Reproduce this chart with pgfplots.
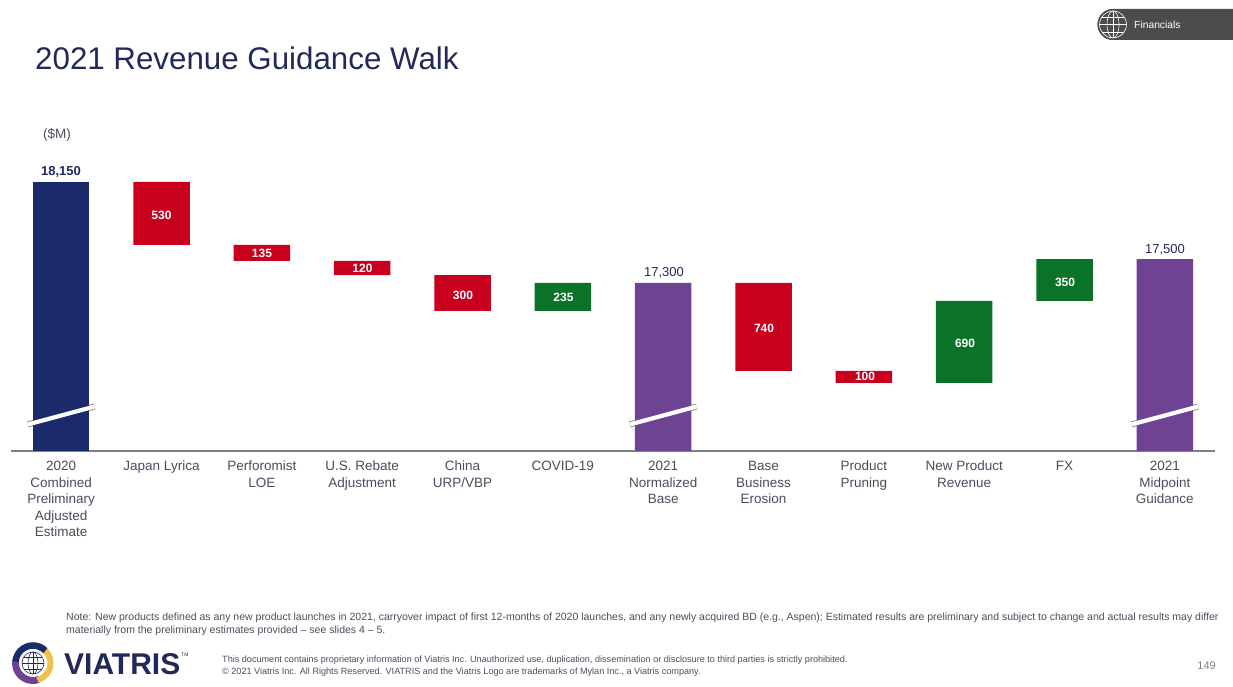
\documentclass[border=0pt]{standalone}
\usepackage{pgfplots}
\pgfplotsset{compat=1.18}
\usepackage{pgfplotstable}
\usepackage{fontspec}
\setmainfont{Liberation Sans}
\definecolor{navy}{HTML}{1B2A6B}
\definecolor{rd}{HTML}{C8001E}
\definecolor{grn}{HTML}{0B7327}
\definecolor{purp}{HTML}{6F4394}
\definecolor{ttl}{HTML}{20295A}
\definecolor{lab}{HTML}{4A4C5C}
\definecolor{yel}{HTML}{EFC24A}
\pgfplotstableread{
x base navy red green purple
0 0     18150 0   0   0
1 17620 0     530 0   0
2 17485 0     135 0   0
3 17365 0     120 0   0
4 17065 0     300 0   0
5 17065 0     0   235 0
6 0     0     0   0   17300
7 16560 0     740 0   0
8 16460 0     100 0   0
9 16460 0     0   690 0
10 17150 0    0   350 0
11 0    0     0   0   17500
}\walk
\newcommand{\fs}[2]{\fontsize{#1}{#2}\selectfont}
\newcommand{\st}{\rule{0pt}{10pt}}
\begin{document}
\begin{tikzpicture}[x=1pt,y=1pt]
\path (0,0) rectangle (1233,687);
% header
\node[anchor=west,inner sep=0,text=ttl] at (35,628.5) {\fs{31.3}{35}2021 Revenue Guidance Walk};
\fill[black!70] (1233,647) -- (1113,647) arc (-90:-270:15.5) -- (1233,678) -- cycle;
\fill[black!70] (1113,662.5) circle (15.5);
\begin{scope}[white,line width=0.6pt]
\draw (1113,662.5) circle (13.5);
\draw (1113,662.5) ellipse (6 and 13.5);
\draw (1099.5,662.5) -- (1126.5,662.5) (1113,649) -- (1113,676);
\draw (1102,670) -- (1124,670) (1102,655) -- (1124,655);
\end{scope}
\node[anchor=west,inner sep=0,text=white] at (1134,662) {\fs{10.3}{12}Financials};
\node[anchor=center,inner sep=0,text=lab] at (57,552.5) {\fs{13.5}{15}(\$M)};
% chart
\begin{axis}[
  at={(11pt,236pt)},anchor=south west,
  scale only axis,width=1204pt,height=269pt,
  xmin=-0.5,xmax=11.5,ymin=15886,ymax=18150,
  clip mode=individual,
  axis x line*=bottom,axis y line=none,
  axis line style={draw=black!50,line width=2.5pt,-},
  ybar stacked,bar width=56.5pt,
  xtick=data,
  xtick style={draw=none},
  xticklabels={{\st 2020\\Combined\\Preliminary\\Adjusted\\Estimate},{\st Japan Lyrica},{\st Perforomist\\LOE},{\st U.S. Rebate\\Adjustment},{\st China\\URP/VBP},{\st COVID-19},{\st 2021\\Normalized\\Base},{\st Base\\Business\\Erosion},{\st Product\\Pruning},{\st New Product\\Revenue},{\st FX},{\st 2021\\Midpoint\\Guidance}},
  xticklabel style={align=center,text=lab,font=\fs{13.5}{16.5},anchor=north,yshift=-6pt},
]
\addplot[draw=none,fill=none] table[x=x,y=base] {\walk};
\addplot[draw=none,fill=navy] table[x=x,y=navy] {\walk};
\addplot[draw=none,fill=rd] table[x=x,y=red] {\walk};
\addplot[draw=none,fill=grn] table[x=x,y=green] {\walk};
\addplot[draw=none,fill=purp] table[x=x,y=purple] {\walk};
\end{axis}
% value labels
\tikzset{inb/.style={text=white,inner sep=0,font=\fs{12}{14}\bfseries},
  top/.style={text=ttl,inner sep=0,font=\fs{13}{15}}}
\node[top,font=\fs{13}{15}\bfseries] at (61,515.5) {18,150};
\node[top] at (664,414.5) {17,300};
\node[top] at (1165,437) {17,500};
\node[inb] at (161.5,472) {530};
\node[inb] at (262,433.5) {135};
\node[inb] at (362.5,419) {120};
\node[inb] at (463,392) {300};
\node[inb] at (563.5,390) {235};
\node[inb] at (764,358.5) {740};
\node[inb] at (865,310.5) {100};
\node[inb] at (965,344) {690};
\node[inb] at (1065,405) {350};
% axis breaks
\foreach \cx/\c in {61.2/navy,663.2/purp,1164.8/purp}{
  \draw[black!45,line width=6pt] (\cx-33.5,262.5) -- (\cx+33.5,280.5);
  \fill[\c] (\cx-28.25,258) rectangle (\cx+28.25,285);
  \draw[white,line width=4.2pt] (\cx-33.5,262.5) -- (\cx+33.5,280.5);
}
% notes
\node[anchor=west,inner sep=0,text=lab] at (66,69) {\fs{10.5}{12}Note: New products defined as any new product launches in 2021, carryover impact of first 12-months of 2020 launches, and any newly acquired BD (e.g., Aspen); Estimated results are preliminary and subject to change and actual results may differ};
\node[anchor=west,inner sep=0,text=lab] at (66,56.5) {\fs{10.5}{12}materially from the preliminary estimates provided -- see slides 4 -- 5.};
\node[anchor=west,inner sep=0,text=lab] at (222,26.5) {\fs{9.1}{10}This document contains proprietary information of Viatris Inc. Unauthorized use, duplication, dissemination or disclosure to third parties is strictly prohibited.};
\node[anchor=west,inner sep=0,text=lab] at (222,15) {\fs{9.1}{10}© 2021 Viatris Inc. All Rights Reserved. VIATRIS and the Viatris Logo are trademarks of Mylan Inc., a Viatris company.};
\node[anchor=east,inner sep=0,text=black!50] at (1216,21.5) {\fs{11}{13}149};
% logo
\draw[purp,line width=7pt] (33,24) ++(170:17.5) arc (170:290:17.5);
\draw[yel,line width=6pt] (33,24) ++(-75:17.5) arc (-75:50:17.5);
\draw[navy,line width=6.5pt] (33,24) ++(45:17.5) arc (45:175:17.5);
\fill[white] (33,24) circle (13.5);
\begin{scope}[navy,line width=0.6pt]
\draw (33,24) circle (11);
\draw (33,24) ellipse (5 and 11);
\draw (22,24) -- (44,24) (33,13) -- (33,35);
\draw (24,30) -- (42,30) (24,18) -- (42,18);
\end{scope}
\node[anchor=west,inner sep=0,text=ttl] at (64,23) {\fs{30}{33}\bfseries VIATRIS};
\node[anchor=west,inner sep=0,text=ttl] at (181,32) {\fs{5}{6}TM};
\end{tikzpicture}
\end{document}
